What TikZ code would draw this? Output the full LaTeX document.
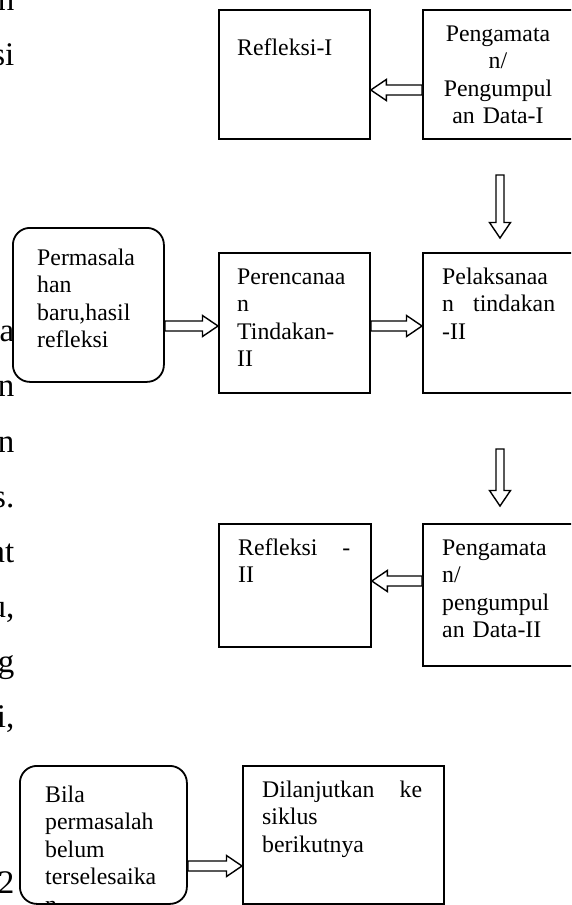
\documentclass[tikz,border=0pt]{standalone}
\usepackage{fontspec}
\setmainfont{Liberation Serif}
\usetikzlibrary{calc}
\setlength{\parindent}{0pt}
\newcommand\boxfont{\fontsize{23.8}{27.5}\selectfont}
\newcommand\bodyfont{\fontsize{33}{40}\selectfont}
% #1 half shaft width, #2 tail, #3 tip
\newcommand\hollowarrow[3]{%
  \draw[arrowline] let \p1=($(#3)!15.5pt!(#2)$) in
    ($(#2)!#1!90:(#3)$) -- ($(\p1)!#1!90:(#3)$) -- ($(\p1)!10.5pt!90:(#3)$) -- (#3)
    -- ($(\p1)!10.5pt!-90:(#3)$) -- ($(\p1)!#1!-90:(#3)$) -- ($(#2)!#1!-90:(#3)$) -- cycle;}
\tikzset{
  box/.style={draw=black, fill=white, line width=1.8pt, inner sep=0pt, anchor=north west},
  rbox/.style={box, rounded corners=17pt},
  txt/.style={anchor=north west, inner sep=0pt, yshift=19.25pt, align=left, text width=140pt, font=\boxfont},
  body/.style={anchor=base east, inner sep=0pt, font=\bodyfont},
  arrowline/.style={draw=black, fill=white, line width=1.4pt, line join=miter}
}
\begin{document}
\begin{tikzpicture}[x=1pt,y=-1pt]
\useasboundingbox (0,0) rectangle (571,905);
\clip (0,0) rectangle (571,905);
% fragments of the page's body text at the left margin
\node[body] (w1) at (14.5,10) {n};
\node[body] (w2) at (14.5,65) {si};
\node[body] (w3) at (14.5,341) {a};
\node[body] (w4) at (14.5,396) {n};
\node[body] (w5) at (14.5,452) {n};
\node[body] (w6) at (14.5,507) {s.};
\node[body] (w7) at (14.5,562) {at};
\node[body] (w8) at (14.5,617) {u,};
\node[body] (w9) at (14.5,672) {g};
\node[body] (w10) at (14.5,727) {i,};
\node[body] (w11) at (14.5,893) {2};
% boxes
\node[box, minimum width=151pt, minimum height=129pt] (b1) at (218,9) {};
\node[box, minimum width=173pt, minimum height=129pt] (b2) at (422,9) {};
\node[rbox, minimum width=151pt, minimum height=154pt] (b3) at (12,227) {};
\node[box, minimum width=151pt, minimum height=140pt] (b4) at (218,252) {};
\node[box, minimum width=173pt, minimum height=140pt] (b5) at (422,252) {};
\node[box, minimum width=152pt, minimum height=123pt] (b6) at (218,523) {};
\node[box, minimum width=173pt, minimum height=142pt] (b7) at (422,523) {};
\node[rbox, minimum width=167pt, minimum height=138pt] (b8) at (19,765) {};
\node[box, minimum width=201pt, minimum height=138pt] (b9) at (242,765) {};
% texts
\node[txt] (t1) at (237,55.5) {\strut Refleksi-I};
\node[txt, anchor=north, align=center, text width=130pt] (t2) at (498,41) {\strut Pengamata\\n/\\Pengumpul\\an Data-I};
\node[txt] (t3) at (37,265) {\strut Permasala\\han\\baru,hasil\\refleksi};
\node[txt] (t4) at (237,284) {\strut Perencanaa\\n\\Tindakan-\\II};
\node[txt, text width=113pt] (t5) at (442,284) {\strut Pelaksanaa\\n\hfill tindakan\\-II};
\node[txt, text width=112pt] (t6) at (238,555) {\strut Refleksi\hfill -\\II};
\node[txt] (t7) at (442,555) {\strut Pengamata\\n/\\pengumpul\\an Data-II};
\node[txt] (t8) at (45,802) {\strut Bila\\permasalah\\belum\\terselesaika\\n};
\node[txt, text width=160pt] (t9) at (262,797) {\strut Dilanjutkan\hfill ke\\siklus\\berikutnya};
% connectors
\coordinate (a1s) at (b2.west |- 0,90);
\coordinate (a1e) at (b1.east |- 0,90);
\hollowarrow{5pt}{a1s}{a1e}
\coordinate (a2s) at (500,175);
\coordinate (a2e) at (500,238);
\hollowarrow{4pt}{a2s}{a2e}
\coordinate (a3s) at (b3.east |- 0,326);
\coordinate (a3e) at (b4.west |- 0,326);
\hollowarrow{5pt}{a3s}{a3e}
\coordinate (a4s) at (b4.east |- 0,326);
\coordinate (a4e) at (b5.west |- 0,326);
\hollowarrow{5pt}{a4s}{a4e}
\coordinate (a5s) at (500,449);
\coordinate (a5e) at (500,506);
\hollowarrow{4pt}{a5s}{a5e}
\coordinate (a6s) at (b7.west |- 0,581);
\coordinate (a6e) at (b6.east |- 0,581);
\hollowarrow{5pt}{a6s}{a6e}
\coordinate (a7s) at (b8.east |- 0,866);
\coordinate (a7e) at (b9.west |- 0,866);
\hollowarrow{5pt}{a7s}{a7e}
\end{tikzpicture}
\end{document}
